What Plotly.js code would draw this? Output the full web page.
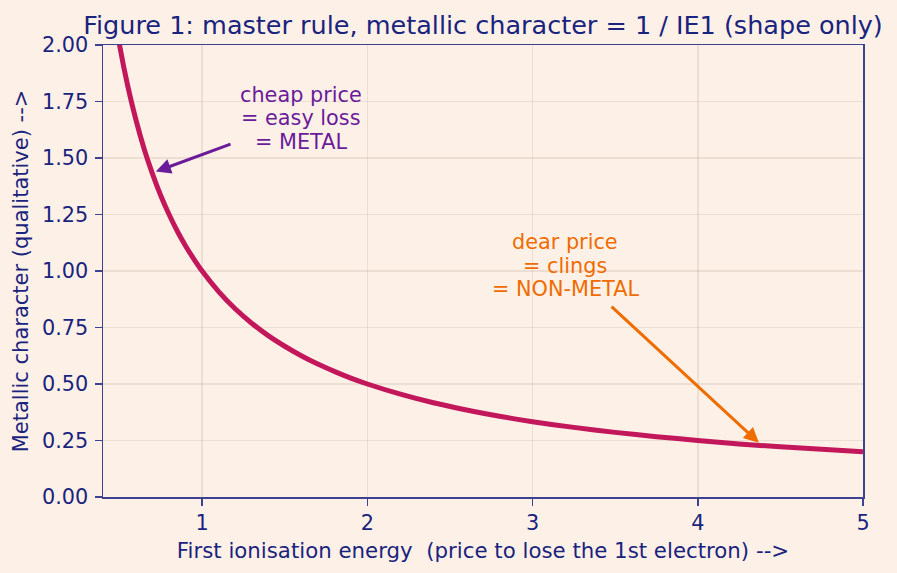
<!DOCTYPE html>
<html>
<head>
<meta charset="utf-8">
<script src="https://cdn.plot.ly/plotly-3.0.1.min.js"></script>
<style>
  html, body { margin: 0; padding: 0; background: #fdf1e7; }
  #chart { width: 897px; height: 573px; }
</style>
</head>
<body>
<div id="chart"></div>
<script>
// First ionisation energy (arbitrary units) and the matching metallic character
const ieValues = [0.40, 0.45, 0.50, 0.55, 0.60, 0.65, 0.70, 0.75, 0.80, 0.85, 0.90, 0.95, 1.00,
                  1.10, 1.20, 1.30, 1.40, 1.50, 1.60, 1.70, 1.80, 1.90, 2.00,
                  2.20, 2.40, 2.60, 2.80, 3.00, 3.25, 3.50, 3.75, 4.00, 4.25, 4.50, 4.75, 5.00];
const metallic = [2.500, 2.222, 2.000, 1.818, 1.667, 1.538, 1.429, 1.333, 1.250, 1.176, 1.111, 1.053, 1.000,
                  0.909, 0.833, 0.769, 0.714, 0.667, 0.625, 0.588, 0.556, 0.526, 0.500,
                  0.455, 0.417, 0.385, 0.357, 0.333, 0.308, 0.286, 0.267, 0.250, 0.235, 0.222, 0.211, 0.200];

const xTicks = [1, 2, 3, 4, 5];
const yTicks = [0, 0.25, 0.5, 0.75, 1.0, 1.25, 1.5, 1.75, 2.0];

// Callout lines and anchors: [first-line x, first-line y, arrow tail x, tail y, arrow head x, head y]
const metalLines = ['cheap price', '= easy loss', '= METAL'];
const metalPos = [1.60, 1.779, 1.19, 1.566, 0.72, 1.44];
const nonMetalLines = ['dear price', '= clings', '= NON-METAL'];
const nonMetalPos = [3.197, 1.128, 3.46, 0.855, 4.37, 0.24];

const navy = '#1a237e';
const spine = '#3d4290';
const grid = 'rgba(160,140,120,0.18)';
const font = 'DejaVu Sans, sans-serif';
const lineGap = 23.5;

const trace = {
  x: ieValues,
  y: metallic,
  type: 'scatter',
  mode: 'lines',
  line: { color: '#c2185b', width: 5, shape: 'spline', smoothing: 0.6 },
  hoverinfo: 'skip'
};

function noteText(lines, pos, color) {
  return lines.map((t, i) => ({
    x: pos[0], y: pos[1], xref: 'x', yref: 'y', yshift: -i * lineGap,
    text: t, showarrow: false,
    font: { family: font, size: 20.8, color: color },
    xanchor: 'center', yanchor: 'middle'
  }));
}
function noteArrow(pos, color) {
  return {
    x: pos[4], y: pos[5], xref: 'x', yref: 'y',
    ax: pos[2], ay: pos[3], axref: 'x', ayref: 'y',
    text: ' ', showarrow: true,
    arrowhead: 2, arrowsize: 1, arrowwidth: 3, arrowcolor: color,
    standoff: 0, startstandoff: 0
  };
}

const axisCommon = {
  showline: true, linecolor: spine, linewidth: 1.5, mirror: true,
  ticks: 'outside', ticklen: 7, tickwidth: 1.5, tickcolor: spine,
  showgrid: true, gridcolor: grid, gridwidth: 1.5,
  zeroline: false,
  tickfont: { family: font, size: 20.8, color: navy }
};

const layout = {
  width: 897, height: 573,
  paper_bgcolor: '#fdf1e7', plot_bgcolor: '#fdf1e7',
  margin: { l: 103, r: 34, t: 45, b: 76 },
  showlegend: false,
  title: {
    text: 'Figure 1: master rule, metallic character = 1 / IE1 (shape only)',
    font: { family: font, size: 25.5, color: navy },
    x: 0.5, xanchor: 'center', xref: 'paper',
    y: 0.956, yanchor: 'middle'
  },
  xaxis: Object.assign({}, axisCommon, {
    range: [0.4, 5], tickvals: xTicks, ticktext: xTicks.map(String),
    title: { text: 'First ionisation energy  (price to lose the 1st electron) -->',
             font: { family: font, size: 21.3, color: navy }, standoff: 8 }
  }),
  yaxis: Object.assign({}, axisCommon, {
    range: [0, 2], tickvals: yTicks, ticktext: yTicks.map(v => v.toFixed(2)),
    ticklabelstandoff: 2,
    title: { text: 'Metallic character (qualitative) -->',
             font: { family: font, size: 21, color: navy }, standoff: 7 }
  }),
  annotations: [
    noteArrow(metalPos, '#6a1b9a'),
    ...noteText(metalLines, metalPos, '#6a1b9a'),
    noteArrow(nonMetalPos, '#ef6c00'),
    ...noteText(nonMetalLines, nonMetalPos, '#ef6c00')
  ]
};

Plotly.newPlot('chart', [trace], layout, { staticPlot: true, displayModeBar: false });
</script>
</body>
</html>
